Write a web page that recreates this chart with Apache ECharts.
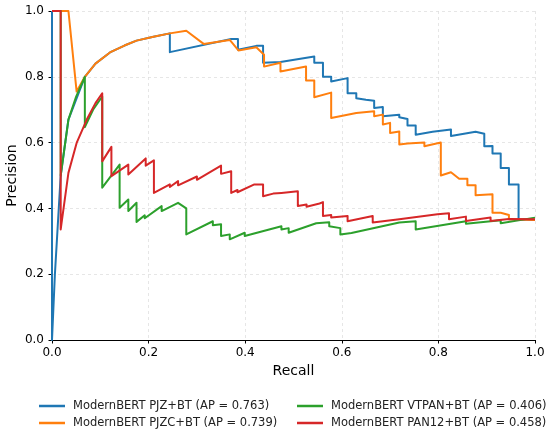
<!DOCTYPE html>
<html>
<head>
<meta charset="utf-8">
<script src="https://cdn.jsdelivr.net/npm/echarts@6/dist/echarts.min.js"></script>
<style>
  html, body { margin: 0; padding: 0; background: #fff; }
  #main { width: 550px; height: 433px; }
</style>
</head>
<body>
<div id="main"></div>
<script>
// series names
const names = [
  'ModernBERT PJZ+BT (AP = 0.763)',
  'ModernBERT PJZC+BT (AP = 0.739)',
  'ModernBERT VTPAN+BT (AP = 0.406)',
  'ModernBERT PAN12+BT (AP = 0.458)'
]
const colors = ['#1f77b4', '#ff7f0e', '#2ca02c', '#d62728']
const ticks = [0, 0.2, 0.4, 0.6, 0.8, 1.0]

// [recall, precision]
const pjz = [
  [0, 1], [0, 0], [0.006, 0.2], [0.018, 0.5], [0.034, 0.67], [0.068, 0.8],
  [0.09, 0.84], [0.12, 0.874], [0.15, 0.895], [0.175, 0.91], [0.21, 0.922], [0.244, 0.932],
  [0.244, 0.875], [0.371, 0.915], [0.385, 0.915], [0.385, 0.882], [0.423, 0.894], [0.437, 0.894],
  [0.437, 0.843], [0.473, 0.845], [0.543, 0.862], [0.543, 0.843], [0.561, 0.843], [0.561, 0.8],
  [0.578, 0.8], [0.578, 0.786], [0.612, 0.796], [0.612, 0.75], [0.63, 0.75], [0.63, 0.735],
  [0.65, 0.73], [0.65, 0.725], [0.667, 0.727], [0.667, 0.705], [0.685, 0.708], [0.685, 0.68],
  [0.719, 0.685], [0.719, 0.677], [0.736, 0.672], [0.736, 0.652], [0.753, 0.652], [0.753, 0.624],
  [0.788, 0.633], [0.79, 0.628], [0.826, 0.64], [0.826, 0.62], [0.877, 0.633], [0.895, 0.627],
  [0.895, 0.589], [0.912, 0.59], [0.912, 0.567], [0.929, 0.567], [0.929, 0.523], [0.946, 0.523],
  [0.946, 0.473], [0.966, 0.473], [0.966, 0.367], [1.0, 0.365]
]
const pjzc = [
  [0, 1], [0.034, 1], [0.051, 0.755], [0.068, 0.8],
  [0.09, 0.84], [0.12, 0.874], [0.15, 0.895], [0.175, 0.91], [0.21, 0.922], [0.244, 0.932],
  [0.278, 0.94], [0.314, 0.9], [0.368, 0.912], [0.386, 0.88], [0.423, 0.89], [0.439, 0.867],
  [0.439, 0.831], [0.473, 0.843], [0.473, 0.816], [0.526, 0.831], [0.526, 0.789], [0.543, 0.789],
  [0.543, 0.738], [0.578, 0.752], [0.578, 0.675], [0.63, 0.69], [0.667, 0.695], [0.667, 0.68],
  [0.685, 0.685], [0.685, 0.655], [0.7, 0.66], [0.7, 0.629], [0.719, 0.634], [0.719, 0.594],
  [0.736, 0.597], [0.771, 0.6], [0.771, 0.589], [0.805, 0.6], [0.805, 0.5], [0.826, 0.51],
  [0.843, 0.49], [0.86, 0.49], [0.86, 0.47], [0.877, 0.47], [0.877, 0.44], [0.912, 0.443],
  [0.912, 0.387], [0.929, 0.387], [0.946, 0.38], [0.946, 0.367], [1.0, 0.365]
]
const vtpan = [
  [0, 1], [0.018, 1], [0.018, 0.5], [0.034, 0.67], [0.05, 0.74], [0.068, 0.8],
  [0.068, 0.647], [0.085, 0.7], [0.104, 0.74], [0.104, 0.463], [0.14, 0.533], [0.14, 0.402],
  [0.158, 0.427], [0.158, 0.392], [0.175, 0.417], [0.175, 0.359], [0.192, 0.379], [0.192, 0.37],
  [0.227, 0.407], [0.227, 0.392], [0.261, 0.417], [0.278, 0.4], [0.278, 0.321], [0.333, 0.361],
  [0.333, 0.349], [0.35, 0.352], [0.35, 0.316], [0.368, 0.321], [0.368, 0.306], [0.399, 0.326],
  [0.399, 0.316], [0.475, 0.346], [0.475, 0.336], [0.49, 0.34], [0.49, 0.326], [0.547, 0.355],
  [0.574, 0.358], [0.574, 0.346], [0.597, 0.34], [0.597, 0.321], [0.62, 0.325], [0.719, 0.357],
  [0.753, 0.361], [0.753, 0.336], [0.857, 0.361], [0.857, 0.353], [0.929, 0.364], [0.929, 0.355],
  [1.0, 0.372]
]
const pan12 = [
  [0, 1], [0.018, 1], [0.018, 0.336], [0.034, 0.508], [0.051, 0.599], [0.072, 0.67],
  [0.09, 0.72], [0.104, 0.75], [0.104, 0.543], [0.123, 0.587], [0.123, 0.498], [0.158, 0.533],
  [0.158, 0.503], [0.194, 0.552], [0.194, 0.53], [0.211, 0.546], [0.211, 0.447], [0.244, 0.473],
  [0.244, 0.465], [0.261, 0.483], [0.261, 0.47], [0.3, 0.497], [0.3, 0.487], [0.35, 0.53],
  [0.35, 0.505], [0.371, 0.513], [0.371, 0.447], [0.384, 0.456], [0.384, 0.449], [0.419, 0.473],
  [0.437, 0.473], [0.437, 0.437], [0.458, 0.445], [0.458, 0.44], [0.475, 0.447], [0.475, 0.442],
  [0.509, 0.452], [0.509, 0.407], [0.527, 0.412], [0.527, 0.405], [0.554, 0.415], [0.561, 0.419],
  [0.561, 0.377], [0.578, 0.38], [0.578, 0.372], [0.612, 0.377], [0.612, 0.361], [0.664, 0.377],
  [0.664, 0.357], [0.719, 0.367], [0.798, 0.382], [0.822, 0.385], [0.822, 0.367], [0.857, 0.375],
  [0.857, 0.362], [0.908, 0.372], [0.908, 0.362], [0.946, 0.368], [1.0, 0.367]
]
const curves = [pjz, pjzc, vtpan, pan12]

const font = 'DejaVu Sans'
const myChart = echarts.init(document.getElementById('main'))

function axis(name, gap, labelGap) {
  return {
    type: 'value',
    min: 0,
    max: 1,
    interval: 0.2,
    name: name,
    nameLocation: 'middle',
    nameGap: gap,
    nameMoveOverlap: false,
    nameTextStyle: { fontFamily: font, fontSize: 14, color: '#000' },
    axisLine: { show: true, lineStyle: { color: '#000', width: 1 } },
    axisTick: { show: true, length: 3.5, lineStyle: { color: '#000' } },
    axisLabel: {
      fontFamily: font, fontSize: 12, color: '#000', margin: labelGap,
      formatter: (v) => (ticks.indexOf(v) >= 0 ? v.toFixed(1) : '')
    },
    splitLine: { show: true, lineStyle: { color: '#e0e0e0', type: [3, 3], width: 0.8 } }
  }
}

function legendCol(items, left) {
  return {
    data: items, orient: 'vertical', left: left, top: 400, height: 40,
    padding: 0, icon: 'rect', itemWidth: 26, itemHeight: 2.5, itemGap: 5,
    textStyle: { fontFamily: font, fontSize: 11.5, color: '#222', padding: [0, 0, 0, 3] }
  }
}

const option = {
  animation: false,
  grid: { left: 52, right: 15, top: 11, bottom: 93, containLabel: false, outerBoundsMode: 'none' },
  xAxis: axis('Recall', 24, 7),
  yAxis: axis('Precision', 33, 8),
  legend: [legendCol([names[0], names[1]], 39), legendCol([names[2], names[3]], 297)],
  series: curves.map((d, i) => ({
    name: names[i],
    type: 'line',
    data: d,
    showSymbol: false,
    symbol: 'none',
    color: colors[i],
    lineStyle: { width: 2, color: colors[i], join: 'round' }
  }))
}

myChart.setOption(option)
</script>
</body>
</html>
